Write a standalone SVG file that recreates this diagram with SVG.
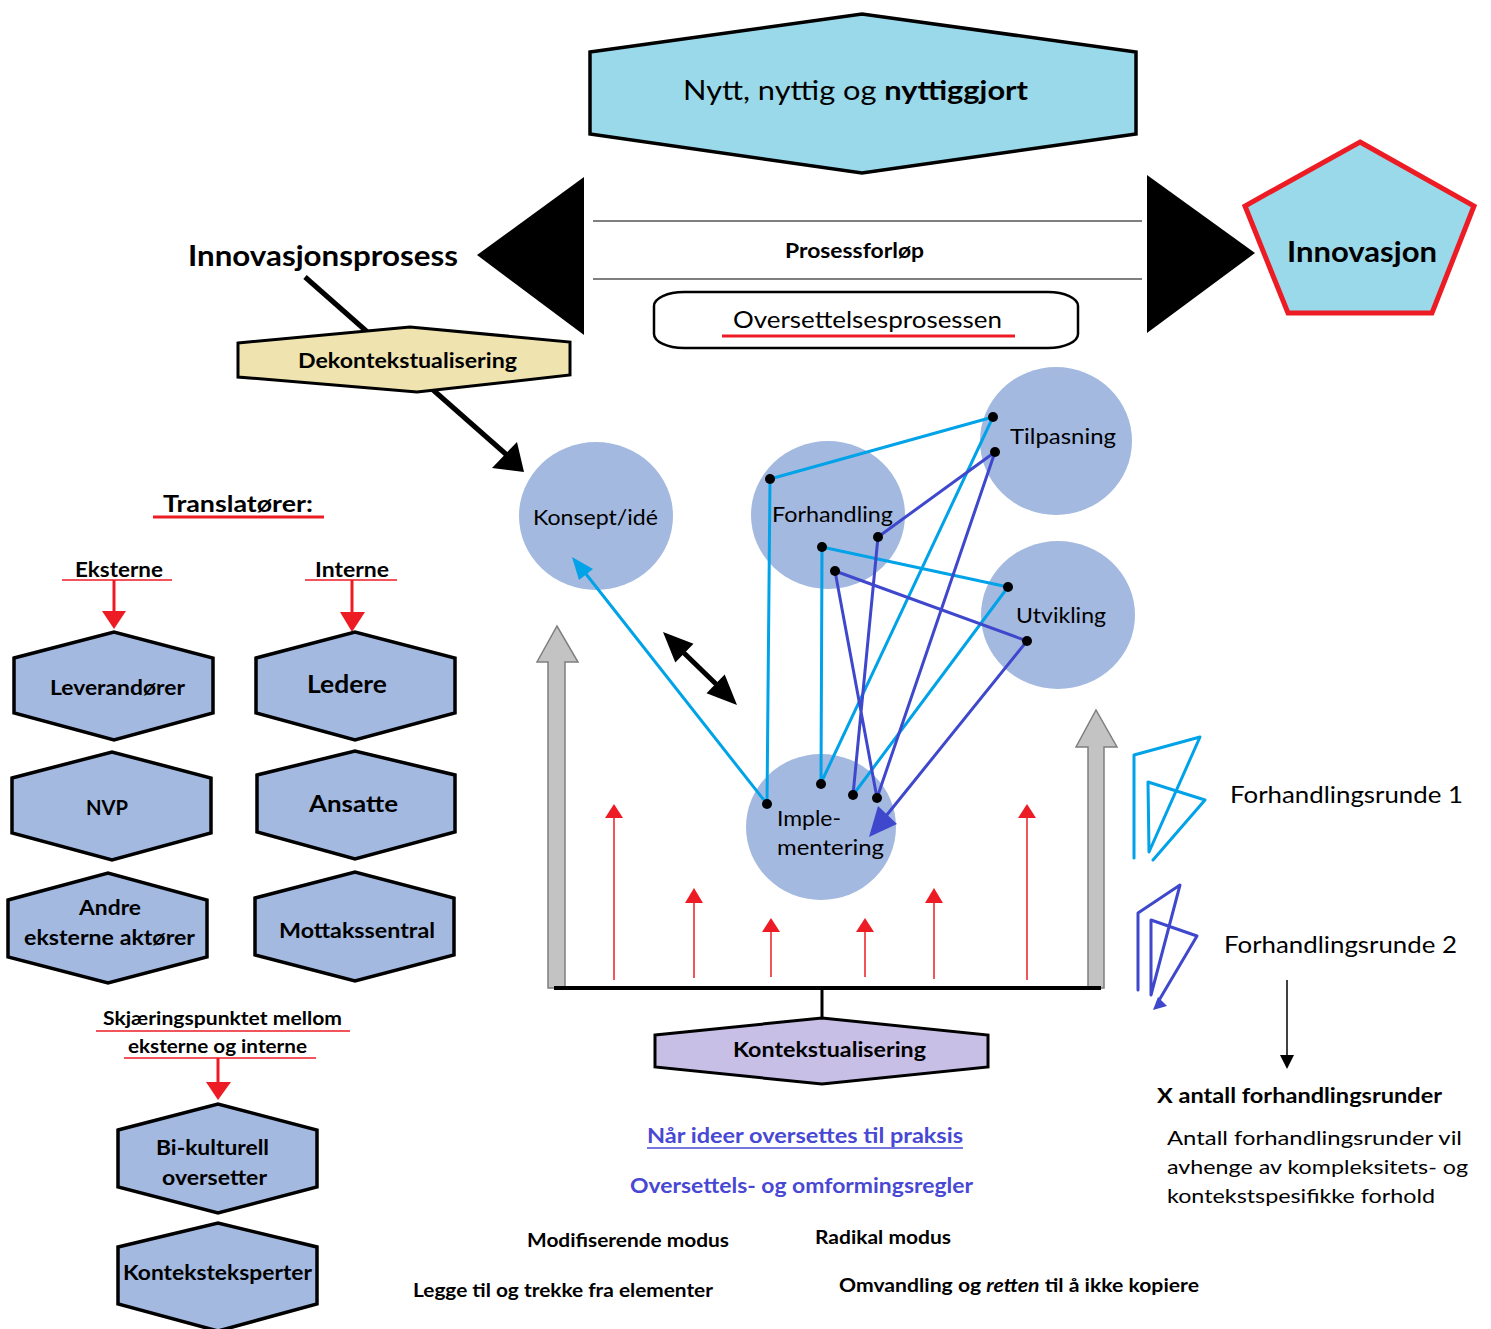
<svg xmlns="http://www.w3.org/2000/svg" width="1491" height="1329" viewBox="0 0 1491 1329">
<style>
text{font-family:Lato,"Open Sans","Liberation Sans",sans-serif;fill:#000}
.b{font-weight:bold}
.hex{fill:#A3B9E0;stroke:#000;stroke-width:3.5;stroke-linejoin:miter}
.circ{fill:#A3B9E0}
.red{stroke:#ED1C24;fill:none}
.redf{fill:#ED1C24}
.lb{stroke:#00A2E8;stroke-width:3;fill:none;stroke-linejoin:round;stroke-linecap:round}
.db{stroke:#3F48CC;stroke-width:3;fill:none;stroke-linejoin:round;stroke-linecap:round}
.dot{fill:#000}
.blue{fill:#4848D4}
.gray{fill:#C3C3C3;stroke:#7F7F7F;stroke-width:1.5}
</style>
<rect width="1491" height="1329" fill="#fff"/>

<g id="konsept">
  <ellipse class="circ" cx="596" cy="516" rx="77" ry="74"/>
  <text x="595.5" y="525" font-size="21" text-anchor="middle" textLength="125" lengthAdjust="spacingAndGlyphs">Konsept/idé</text>
</g>
<g id="forhandling">
  <ellipse class="circ" cx="828" cy="515" rx="77" ry="74"/>
  <text x="832.5" y="522" font-size="21" text-anchor="middle" textLength="121" lengthAdjust="spacingAndGlyphs">Forhandling</text>
</g>
<g id="tilpasning">
  <ellipse class="circ" cx="1056" cy="441" rx="76" ry="74"/>
  <text x="1063" y="444" font-size="21" text-anchor="middle" textLength="106" lengthAdjust="spacingAndGlyphs">Tilpasning</text>
</g>
<g id="utvikling">
  <ellipse class="circ" cx="1058" cy="615" rx="77" ry="74"/>
  <text x="1061" y="623" font-size="21" text-anchor="middle" textLength="90" lengthAdjust="spacingAndGlyphs">Utvikling</text>
</g>
<g id="implementering">
  <ellipse class="circ" cx="821" cy="827" rx="75" ry="73"/>
  <text x="777" y="826" font-size="21" textLength="64" lengthAdjust="spacingAndGlyphs">Imple-</text>
  <text x="777" y="855" font-size="21" textLength="107" lengthAdjust="spacingAndGlyphs">mentering</text>
</g>

<g id="connectors">
  <!-- Innovasjonsprosess to Konsept -->
  <line x1="305" y1="277" x2="508" y2="456" stroke="#000" stroke-width="5"/>
  <polygon points="517,442 524,472 492,468" fill="#000"/>
  <!-- left red arrows -->
  <line x1="114" y1="580" x2="114" y2="612" class="red" stroke-width="3"/>
  <polygon points="102,611 126,611 114,629" class="redf"/>
  <line x1="352" y1="580" x2="352" y2="613" class="red" stroke-width="3"/>
  <polygon points="340,612 365,612 352,632" class="redf"/>
  <line x1="218" y1="1058" x2="218" y2="1083" class="red" stroke-width="3"/>
  <polygon points="206,1082 231,1082 218,1100" class="redf"/>
  <!-- double black arrow -->
  <line x1="684" y1="653" x2="716" y2="684" stroke="#000" stroke-width="5"/>
  <polygon points="663,632 693.5,643.8 675.3,662.4" fill="#000"/>
  <polygon points="737,705 724.7,674.6 706.5,693.2" fill="#000"/>
  <!-- round 1 -->
  <line x1="767" y1="804" x2="586" y2="574" class="lb"/>
  <polygon points="572,557 593,569 579,580" fill="#00A2E8"/>
  <polyline class="lb" points="767,804 770,479 993,417 821,783 822,547 1008,587 853,795"/>
  <!-- round 2 -->
  <polyline class="db" points="853,795 878,537 995,452 877,798 835,571 1027,641 886,816"/>
  <polygon points="869,837 897,824 878,806" fill="#3F48CC"/>
  <!-- dots -->
  <circle class="dot" cx="770" cy="479" r="5"/>
  <circle class="dot" cx="993" cy="417" r="5"/>
  <circle class="dot" cx="995" cy="452" r="5"/>
  <circle class="dot" cx="878" cy="537" r="5"/>
  <circle class="dot" cx="822" cy="547" r="5"/>
  <circle class="dot" cx="835" cy="571" r="5"/>
  <circle class="dot" cx="1008" cy="587" r="5"/>
  <circle class="dot" cx="1027" cy="641" r="5"/>
  <circle class="dot" cx="767" cy="804" r="5"/>
  <circle class="dot" cx="821" cy="784" r="5"/>
  <circle class="dot" cx="853" cy="795" r="5"/>
  <circle class="dot" cx="877" cy="798" r="5"/>
  <!-- gray arrows, base -->
  <path class="gray" d="M548,988 L548,662 L537,662 L557,626 L578,662 L565,662 L565,988 Z"/>
  <path class="gray" d="M1088,988 L1088,747 L1076,747 L1096,710 L1117,747 L1104,747 L1104,988 Z"/>
  <line x1="554" y1="988" x2="1101" y2="988" stroke="#000" stroke-width="4"/>
  <line x1="822" y1="988" x2="822" y2="1019" stroke="#000" stroke-width="3"/>
  <!-- red upward arrows -->
  <g stroke="#ED1C24" stroke-width="1.5">
    <line x1="614" y1="980" x2="614" y2="817"/>
    <line x1="694" y1="978" x2="694" y2="902"/>
    <line x1="771" y1="977" x2="771" y2="931"/>
    <line x1="865" y1="977" x2="865" y2="931"/>
    <line x1="934" y1="979" x2="934" y2="902"/>
    <line x1="1027" y1="980" x2="1027" y2="817"/>
  </g>
  <g class="redf">
    <polygon points="605,818 623,818 614,804"/>
    <polygon points="685,903 703,903 694,888"/>
    <polygon points="762,932 780,932 771,918"/>
    <polygon points="856,932 874,932 865,918"/>
    <polygon points="925,903 943,903 934,888"/>
    <polygon points="1018,818 1036,818 1027,804"/>
  </g>
  <!-- legend -->
  <polyline class="lb" points="1134,858 1134,755 1200,737 1149,852 1148,782 1205,800 1153,860"/>
  <polyline class="db" points="1138,990 1138,913 1180,885 1151,995 1151,920 1197,936 1158,1002"/>
  <polygon points="1153,1010 1167,1006 1158,997" fill="#3F48CC"/>
  <line x1="1287" y1="980" x2="1287" y2="1056" stroke="#000" stroke-width="1.5"/>
  <polygon points="1280,1055 1294,1055 1287,1069" fill="#000"/>
</g>

<g id="top-hexagon">
  <polygon points="590,52 862,14 1136,52 1136,134 862,173 590,134" fill="#99D9EA" stroke="#000" stroke-width="3.5"/>
  <text x="855.5" y="100" font-size="27" text-anchor="middle" textLength="345" lengthAdjust="spacingAndGlyphs">Nytt, nyttig og <tspan class="b">nyttiggjort</tspan></text>
</g>

<g id="prosessforlop">
  <polygon points="477,255 584,177 584,335" fill="#000"/>
  <polygon points="1147,175 1147,333 1255,253" fill="#000"/>
  <line x1="593" y1="221" x2="1142" y2="221" stroke="#000" stroke-width="1.2"/>
  <line x1="593" y1="279" x2="1142" y2="279" stroke="#000" stroke-width="1.2"/>
  <text x="854.5" y="258" class="b" font-size="20" text-anchor="middle" textLength="139" lengthAdjust="spacingAndGlyphs">Prosessforløp</text>
</g>

<g id="oversettelsesprosessen">
  <rect x="654" y="292" width="424" height="56" rx="30" ry="14" fill="#fff" stroke="#000" stroke-width="2.5"/>
  <text x="867.5" y="328" font-size="24" text-anchor="middle" textLength="269" lengthAdjust="spacingAndGlyphs">Oversettelsesprosessen</text>
  <line x1="722" y1="336" x2="1015" y2="336" class="red" stroke-width="3"/>
</g>

<g id="innovasjon">
  <polygon points="1360,142 1474,206 1432,313 1288,313 1245,206" fill="#99D9EA" stroke="#ED1C24" stroke-width="5" stroke-linejoin="miter"/>
  <text x="1362" y="262" class="b" font-size="28" text-anchor="middle" textLength="150" lengthAdjust="spacingAndGlyphs">Innovasjon</text>
</g>

<g id="innovasjonsprosess">
  <text x="188" y="266" class="b" font-size="28" textLength="270" lengthAdjust="spacingAndGlyphs">Innovasjonsprosess</text>
</g>

<g id="dekontekstualisering">
  <polygon points="238,343 410,327 570,342 570,375 417,392 238,377" fill="#EFE4B0" stroke="#000" stroke-width="3"/>
  <text x="407.5" y="368" class="b" font-size="20" text-anchor="middle" textLength="219" lengthAdjust="spacingAndGlyphs">Dekontekstualisering</text>
</g>

<g id="kontekstualisering">
  <polygon points="655,1035 822,1018 988,1035 988,1067 822,1084 655,1067" fill="#C8BFE7" stroke="#000" stroke-width="3"/>
  <text x="829.5" y="1057" class="b" font-size="20" text-anchor="middle" textLength="193" lengthAdjust="spacingAndGlyphs">Kontekstualisering</text>
</g>

<g id="translatorer">
  <text x="163" y="512" class="b" font-size="23" textLength="150" lengthAdjust="spacingAndGlyphs">Translatører:</text>
  <line x1="153" y1="517" x2="324" y2="517" class="red" stroke-width="3"/>
</g>
<g id="eksterne">
  <text x="75" y="577" class="b" font-size="20" textLength="88" lengthAdjust="spacingAndGlyphs">Eksterne</text>
  <line x1="62" y1="580" x2="172" y2="580" class="red" stroke-width="1.5"/>
</g>
<g id="interne">
  <text x="315" y="577" class="b" font-size="20" textLength="74" lengthAdjust="spacingAndGlyphs">Interne</text>
  <line x1="305" y1="580" x2="397" y2="580" class="red" stroke-width="1.5"/>
</g>

<g id="leverandorer">
  <polygon class="hex" points="14,658 114,632 213,658 213,713 114,740 14,713"/>
  <text x="117.5" y="695" class="b" font-size="20" text-anchor="middle" textLength="135" lengthAdjust="spacingAndGlyphs">Leverandører</text>
</g>
<g id="ledere">
  <polygon class="hex" points="256,658 355,632 455,658 455,713 355,740 256,713"/>
  <text x="347" y="693" class="b" font-size="24" text-anchor="middle" textLength="80" lengthAdjust="spacingAndGlyphs">Ledere</text>
</g>
<g id="nvp">
  <polygon class="hex" points="12,778 112,752 211,778 211,833 112,860 12,833"/>
  <text x="107" y="815" class="b" font-size="20" text-anchor="middle" textLength="42" lengthAdjust="spacingAndGlyphs">NVP</text>
</g>
<g id="ansatte">
  <polygon class="hex" points="257,775 355,751 455,775 455,832 355,859 257,832"/>
  <text x="353.5" y="812" class="b" font-size="23" text-anchor="middle" textLength="89" lengthAdjust="spacingAndGlyphs">Ansatte</text>
</g>
<g id="andre">
  <polygon class="hex" points="8,900 108,873 207,900 207,957 108,983 8,957"/>
  <text x="110" y="915" class="b" font-size="20" text-anchor="middle" textLength="62" lengthAdjust="spacingAndGlyphs">Andre</text>
  <text x="109.5" y="945" class="b" font-size="20" text-anchor="middle" textLength="171" lengthAdjust="spacingAndGlyphs">eksterne aktører</text>
</g>
<g id="mottakssentral">
  <polygon class="hex" points="255,898 355,872 454,898 454,955 355,981 255,955"/>
  <text x="357" y="938" class="b" font-size="20" text-anchor="middle" textLength="156" lengthAdjust="spacingAndGlyphs">Mottakssentral</text>
</g>

<g id="skjaeringspunktet">
  <text x="222.5" y="1025" class="b" font-size="18" text-anchor="middle" textLength="239" lengthAdjust="spacingAndGlyphs">Skjæringspunktet mellom</text>
  <line x1="96" y1="1031" x2="350" y2="1031" class="red" stroke-width="1.5"/>
  <text x="217.5" y="1053" class="b" font-size="18" text-anchor="middle" textLength="179" lengthAdjust="spacingAndGlyphs">eksterne og interne</text>
  <line x1="124" y1="1058" x2="316" y2="1058" class="red" stroke-width="1.5"/>
</g>
<g id="bikulturell">
  <polygon class="hex" points="118,1130 218,1104 317,1130 317,1187 218,1213 118,1187"/>
  <text x="212.5" y="1155" class="b" font-size="20" text-anchor="middle" textLength="113" lengthAdjust="spacingAndGlyphs">Bi-kulturell</text>
  <text x="214.5" y="1185" class="b" font-size="20" text-anchor="middle" textLength="105" lengthAdjust="spacingAndGlyphs">oversetter</text>
</g>
<g id="konteksteksperter">
  <polygon class="hex" points="118,1247 218,1223 317,1247 317,1304 218,1331 118,1304"/>
  <text x="217.5" y="1280" class="b" font-size="20" text-anchor="middle" textLength="189" lengthAdjust="spacingAndGlyphs">Konteksteksperter</text>
</g>

<g id="legend">
  <text x="1230" y="803" font-size="23" textLength="233" lengthAdjust="spacingAndGlyphs">Forhandlingsrunde 1</text>
  <text x="1224" y="953" font-size="23" textLength="233" lengthAdjust="spacingAndGlyphs">Forhandlingsrunde 2</text>
  <text x="1157" y="1103" class="b" font-size="20" textLength="285" lengthAdjust="spacingAndGlyphs">X antall forhandlingsrunder</text>
  <text x="1167" y="1145" font-size="20" textLength="295" lengthAdjust="spacingAndGlyphs">Antall forhandlingsrunder vil</text>
  <text x="1167" y="1174" font-size="20" textLength="301" lengthAdjust="spacingAndGlyphs">avhenge av kompleksitets- og</text>
  <text x="1167" y="1203" font-size="20" textLength="268" lengthAdjust="spacingAndGlyphs">kontekstspesifikke forhold</text>
</g>

<g id="bottom-texts">
  <text x="805" y="1143" class="b blue" font-size="20" text-anchor="middle" textLength="316" lengthAdjust="spacingAndGlyphs">Når ideer oversettes til praksis</text>
  <line x1="647" y1="1148" x2="963" y2="1148" stroke="#4848D4" stroke-width="1.5"/>
  <text x="801.5" y="1193" class="b blue" font-size="20" text-anchor="middle" textLength="343" lengthAdjust="spacingAndGlyphs">Oversettels- og omformingsregler</text>
  <text x="527" y="1247" class="b" font-size="18" textLength="202" lengthAdjust="spacingAndGlyphs">Modifiserende modus</text>
  <text x="815" y="1244" class="b" font-size="18" textLength="136" lengthAdjust="spacingAndGlyphs">Radikal modus</text>
  <text x="413" y="1297" class="b" font-size="18" textLength="300" lengthAdjust="spacingAndGlyphs">Legge til og trekke fra elementer</text>
  <text x="839" y="1292" class="b" font-size="18" textLength="360" lengthAdjust="spacingAndGlyphs">Omvandling og <tspan font-style="italic">retten</tspan> til å ikke kopiere</text>
</g>
</svg>
